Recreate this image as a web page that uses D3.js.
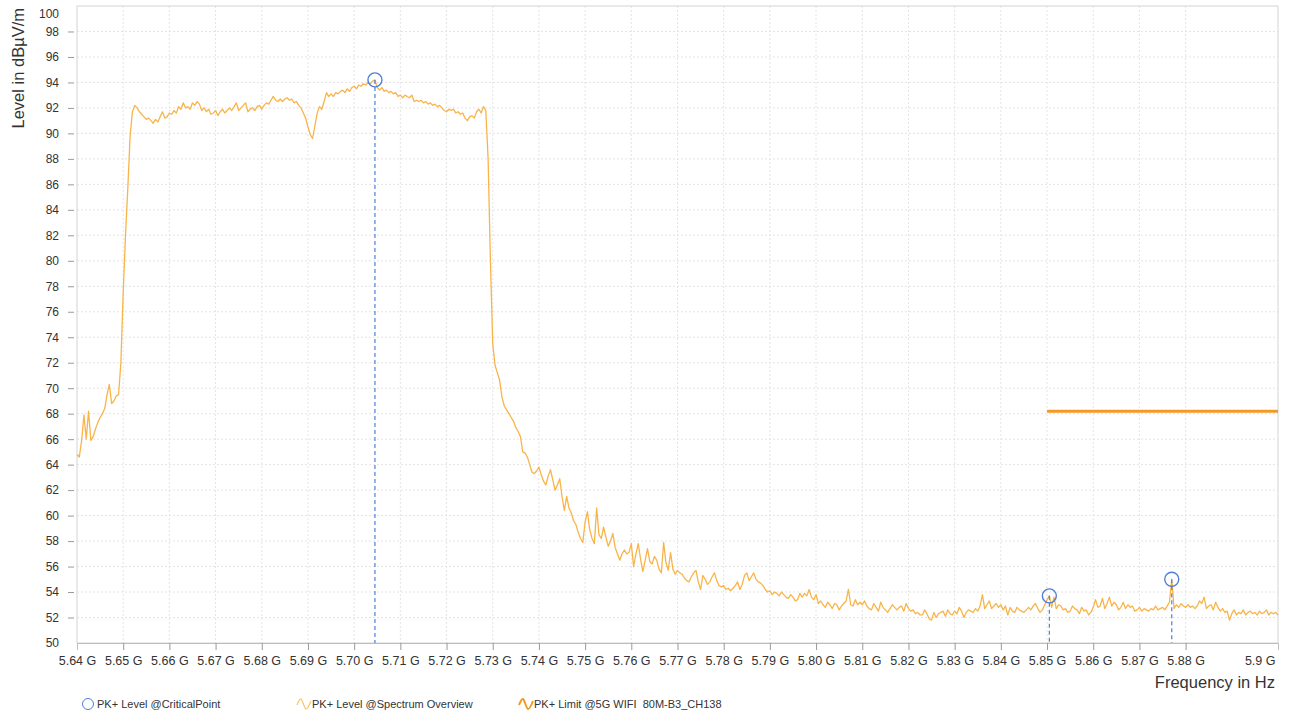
<!DOCTYPE html>
<html>
<head>
<meta charset="utf-8">
<script src="https://cdn.jsdelivr.net/npm/d3@7"></script>
<style>
    body { margin: 0; background: #fff; }
    svg text { font-family: "Liberation Sans", Arial, sans-serif; fill: #333; white-space: pre; }
</style>
</head>
<body>
<svg id="chart" width="1290" height="715"></svg>
<script>
// sweep: start frequency (GHz) and step between samples
const freqStart = 5.64;
const freqStep = 0.0005;

// PK+ level of the spectrum overview, dBµV/m, one value per sweep step
const levels = [
    64.8, 64.6, 65.9, 67.9, 66.0, 68.2, 65.9, 66.2, 66.8, 67.3, 67.7, 68.0, 68.4, 69.5, 70.3, 68.8, 69.0, 69.4, 69.5, 72.0,
    77.5, 82.0, 85.7, 89.8, 91.7, 92.2, 92.0, 91.7, 91.5, 91.3, 91.1,
    91.2, 91.0, 90.8, 91.1, 90.9, 91.3, 91.7, 91.2, 91.3, 91.6, 91.5, 91.8, 91.6, 92.1, 91.9, 92.4, 92.0, 92.1, 91.9, 92.4,
    92.2, 92.5, 92.3, 91.8, 92.0, 91.7, 91.9, 91.5, 91.6, 91.8,
    91.4, 91.7, 91.9, 91.6, 91.8, 92.0, 91.8, 92.1, 92.4, 91.8, 92.0, 92.2, 92.4, 91.7, 91.9, 92.0, 91.8, 92.1, 92.2, 91.9,
    92.2, 92.4, 92.3, 92.6, 92.9, 92.6, 92.5, 92.7, 92.5, 92.7,
    92.8, 92.6, 92.7, 92.4, 92.5, 92.2, 92.0, 91.6, 91.2, 90.5, 89.9, 89.6, 90.6, 91.6, 92.1, 91.9, 92.5, 93.2, 92.9, 93.1,
    92.9, 93.2, 93.1, 93.3, 93.4, 93.2, 93.5, 93.3, 93.6, 93.7,
    93.5, 93.8, 93.7, 93.9, 93.8, 94.0, 93.9, 94.1, 94.2, 93.6, 93.4, 93.6, 93.3, 93.4, 93.2, 93.3, 93.1, 93.2, 92.9, 93.0,
    92.8, 93.0, 92.9, 92.8, 93.0, 92.5, 92.6, 92.5, 92.6, 92.4,
    92.5, 92.3, 92.4, 92.2, 92.3, 92.1, 92.2, 92.0, 91.8, 91.7, 91.9, 91.8, 91.9, 91.6, 91.7, 91.5, 91.6, 91.2, 91.0, 91.3,
    91.4, 91.2, 91.7, 91.9, 91.6, 92.1, 91.8, 88.0, 80.0, 73.5,
    71.8, 71.2, 70.6, 69.3, 68.6, 68.3, 68.0, 67.7, 67.4, 66.9, 66.6, 66.2, 65.0, 64.9, 64.6, 64.0, 63.4, 63.3, 63.5, 63.8,
    63.2, 62.7, 62.4, 63.1, 63.6, 62.8, 62.0, 62.4, 62.9, 61.5,
    60.4, 61.5, 60.6, 60.2, 59.6, 59.3, 58.7, 58.2, 57.9, 59.5, 60.3, 58.9, 58.2, 57.8, 60.6, 58.5, 58.2, 59.1, 58.3, 57.6,
    58.0, 58.6, 57.5, 57.0, 56.5, 57.0, 57.3, 57.0, 57.1, 57.8,
    56.0, 57.0, 57.8, 56.6, 55.6, 56.5, 57.4, 56.4, 56.2, 56.8, 56.5, 55.8, 55.5, 57.9, 56.3, 55.7, 57.1, 55.8, 55.4, 55.7,
    55.5, 55.4, 55.1, 54.9, 54.8, 55.2, 55.5, 55.7, 54.8, 54.2,
    55.3, 55.0, 54.6, 54.8, 55.2, 55.5, 54.9, 54.5, 54.4, 54.5, 54.2, 54.3, 54.1, 54.3, 54.5, 54.8, 54.2, 54.6, 55.3, 55.5,
    54.9, 55.2, 55.5, 55.0, 54.8, 54.7, 54.5, 54.2, 54.0, 54.1,
    53.8, 54.0, 53.9, 53.7, 54.0, 53.8, 53.6, 53.5, 53.8, 53.6, 53.3, 53.4, 53.9, 53.6, 53.9, 53.7, 54.2, 53.6, 53.4, 53.8,
    53.1, 53.3, 53.0, 52.8, 53.2, 53.0, 52.7, 53.1, 53.0, 52.6,
    52.9, 53.1, 53.3, 54.2, 53.0, 52.9, 53.4, 53.0, 53.2, 53.0, 53.3, 52.9, 52.7, 52.6, 53.1, 52.8, 52.5, 53.2, 52.8, 52.6,
    52.4, 52.7, 53.0, 52.8, 52.6, 52.8, 52.9, 52.5, 53.1, 52.7,
    52.5, 52.6, 52.3, 52.4, 52.2, 52.2, 52.6, 52.3, 51.9, 51.8, 52.4, 52.0, 52.3, 52.4, 52.5, 52.1, 52.6, 52.3, 52.2, 52.5,
    52.3, 52.8, 52.5, 52.0, 52.4, 52.6, 52.5, 52.4, 52.7, 52.5,
    52.9, 53.8, 52.7, 53.0, 53.3, 52.7, 52.9, 53.1, 52.8, 53.0, 52.6, 52.9, 52.2, 52.8, 52.5, 52.4, 52.8, 52.6, 52.5, 52.4,
    52.6, 52.8, 52.6, 52.9, 53.1, 52.7, 52.4, 52.6, 53.0, 53.4,
    53.7, 52.8, 53.6, 52.7, 53.0, 52.9, 52.6, 52.7, 52.4, 52.5, 52.9, 52.7, 52.6, 52.3, 52.8, 52.5, 52.6, 52.2, 52.4, 52.8,
    53.4, 52.8, 52.9, 53.5, 52.7, 53.1, 53.6, 52.9, 53.2, 53.0,
    52.6, 52.8, 53.2, 52.7, 53.0, 52.8, 52.9, 52.5, 52.6, 52.8, 52.5, 52.7, 52.6, 52.5, 52.7, 52.6, 52.9, 52.6, 52.7, 52.8,
    52.6, 52.9, 53.2, 55.0, 52.7, 53.0, 52.8, 53.1, 52.9, 52.8,
    53.0, 52.8, 52.9, 52.7, 52.9, 53.3, 53.1, 53.6, 52.7, 52.9, 53.0, 52.6, 53.2, 52.8, 52.5, 52.7, 52.4, 52.5, 51.8, 52.3,
    52.6, 52.2, 52.4, 52.3, 52.6, 52.2, 52.4, 52.5, 52.3, 52.4,
    52.2, 52.5, 52.3, 52.4, 52.6, 52.2, 52.4, 52.3, 52.4, 52.2
];

// critical points (GHz, dBµV/m)
const criticalFreqs = [5.7045, 5.8505, 5.877];
const criticalLevels = [94.2, 53.7, 55.0];

// limit line of the 5G WIFI channel
const limitFreqs = [5.85, 5.90];
const limitLevels = [68.2, 68.2];

// axes
const yTicks = d3.range(50, 101, 2);
const xTicks = [5.64, 5.65, 5.66, 5.67, 5.68, 5.69, 5.70, 5.71, 5.72, 5.73, 5.74, 5.75, 5.76,
                5.77, 5.78, 5.79, 5.80, 5.81, 5.82, 5.83, 5.84, 5.85, 5.86, 5.87, 5.88, 5.90];
const xTickLabels = ["5.64 G", "5.65 G", "5.66 G", "5.67 G", "5.68 G", "5.69 G", "5.70 G", "5.71 G",
                     "5.72 G", "5.73 G", "5.74 G", "5.75 G", "5.76 G", "5.77 G", "5.78 G", "5.79 G",
                     "5.80 G", "5.81 G", "5.82 G", "5.83 G", "5.84 G", "5.85 G", "5.86 G", "5.87 G",
                     "5.88 G", "5.9 G"];

const legendLabels = ["PK+ Level @CriticalPoint", "PK+ Level @Spectrum Overview", "PK+ Limit @5G WIFI  80M-B3_CH138"];

const colors = {
    spectrum: "#f9b449",
    limit: "#f39a26",
    critical: "#4f7fd8",
    grid: "#e4e4e4",
    frame: "#d4d4d4"
};

/** Draws the spectrum plot */
class SpectrumChart {
    constructor(svg) {
        this.svg = svg;
        this.left = 77;
        this.right = 1278;
        this.top = 6;
        this.bottom = 643;

        this.x = d3.scaleLinear().domain([5.64, 5.90]).range([this.left, this.right]);
        this.y = d3.scaleLinear().domain([50, 100]).range([this.bottom, this.top]);
    }

    drawGrid() {
        let g = this.svg.append("g").attr("class", "grid");

        g.selectAll("line.h")
            .data(yTicks.filter(d => d > 50 && d < 100))
            .enter().append("line")
            .attr("x1", this.left).attr("x2", this.right)
            .attr("y1", d => this.y(d)).attr("y2", d => this.y(d))
            .attr("stroke", colors.grid)
            .attr("stroke-dasharray", "2,2");

        g.selectAll("line.v")
            .data(xTicks.filter(d => d > 5.64 && d < 5.9))
            .enter().append("line")
            .attr("x1", d => this.x(d)).attr("x2", d => this.x(d))
            .attr("y1", this.top).attr("y2", this.bottom)
            .attr("stroke", colors.grid)
            .attr("stroke-dasharray", "2,2");

        // frame
        g.append("rect")
            .attr("x", this.left).attr("y", this.top)
            .attr("width", this.right - this.left)
            .attr("height", this.bottom - this.top)
            .attr("fill", "none")
            .attr("stroke", colors.frame);
    }

    drawAxes() {
        let yAxis = d3.axisLeft(this.y)
            .tickValues(yTicks)
            .tickSize(6)
            .tickPadding(9)
            .tickFormat(d3.format("d"));

        let gy = this.svg.append("g")
            .attr("transform", `translate(${this.left - 3},0)`)
            .call(yAxis);
        gy.select(".domain").remove();
        gy.selectAll(".tick line").attr("stroke", "#999");
        gy.selectAll(".tick text").attr("font-size", 12).attr("fill", "#333");
        gy.selectAll(".tick").filter(d => d === 50 || d === 100).select("line").remove();
        // top label is pushed down so it stays inside the picture
        gy.selectAll(".tick").filter(d => d === 100).select("text").attr("dy", "0.95em");

        let xAxis = d3.axisBottom(this.x)
            .tickValues(xTicks)
            .tickSize(7)
            .tickPadding(6)
            .tickFormat((d, i) => xTickLabels[i]);

        let gx = this.svg.append("g")
            .attr("transform", `translate(0,${this.bottom})`)
            .call(xAxis);
        gx.select(".domain").attr("stroke", "#bdbdbd");
        gx.selectAll(".tick line").attr("stroke", "#999");
        gx.selectAll(".tick text").attr("font-size", 12.5).attr("fill", "#333");
        gx.selectAll(".tick").filter(d => d === 5.64 || d === 5.9).select("line").remove();
        gx.selectAll(".tick").filter(d => d === 5.9).select("text")
            .attr("text-anchor", "end").attr("x", -3);

        this.svg.append("text")
            .attr("transform", "translate(24,8) rotate(-90)")
            .attr("text-anchor", "end")
            .attr("font-size", 16.5)
            .text("Level in dBµV/m");

        this.svg.append("text")
            .attr("x", 1275).attr("y", 688)
            .attr("text-anchor", "end")
            .attr("font-size", 16.5)
            .text("Frequency in Hz");
    }

    drawSeries() {
        let spectrum = levels.map((v, i) => ({ f: freqStart + i * freqStep, v: v }));

        let line = d3.line()
            .x(d => this.x(d.f))
            .y(d => this.y(d.v));

        this.svg.append("path")
            .datum(spectrum)
            .attr("fill", "none")
            .attr("stroke", colors.spectrum)
            .attr("stroke-width", 1.3)
            .attr("stroke-linejoin", "round")
            .attr("d", line);

        let limit = limitFreqs.map((f, i) => ({ f: f, v: limitLevels[i] }));
        this.svg.append("path")
            .datum(limit)
            .attr("fill", "none")
            .attr("stroke", colors.limit)
            .attr("stroke-width", 3)
            .attr("d", line);

        let crit = criticalFreqs.map((f, i) => ({ f: f, v: criticalLevels[i] }));
        let g = this.svg.append("g").attr("class", "critical");

        g.selectAll("line")
            .data(crit)
            .enter().append("line")
            .attr("x1", d => this.x(d.f)).attr("x2", d => this.x(d.f))
            .attr("y1", d => this.y(d.v)).attr("y2", this.bottom)
            .attr("stroke", colors.critical)
            .attr("stroke-width", 1.2)
            .attr("stroke-dasharray", "4,3");

        g.selectAll("circle")
            .data(crit)
            .enter().append("circle")
            .attr("cx", d => this.x(d.f))
            .attr("cy", d => this.y(d.v))
            .attr("r", 7)
            .attr("fill", "none")
            .attr("stroke", colors.critical)
            .attr("stroke-width", 1.4);
    }

    drawLegend() {
        let cy = 704;
        let items = [
            { label: legendLabels[0], x: 82, kind: "circle" },
            { label: legendLabels[1], x: 297, kind: "wave", color: "#f9c261", width: 1.2 },
            { label: legendLabels[2], x: 519, kind: "wave", color: colors.limit, width: 2 }
        ];
        let wave = d3.line().curve(d3.curveCardinal);

        items.forEach(item => {
            if (item.kind === "circle") {
                this.svg.append("circle")
                    .attr("cx", item.x + 6).attr("cy", cy).attr("r", 5.5)
                    .attr("fill", "none")
                    .attr("stroke", colors.critical)
                    .attr("stroke-width", 1);
            } else {
                let pts = [[item.x, cy + 1], [item.x + 4, cy - 5], [item.x + 9, cy + 5], [item.x + 14, cy - 3]];
                this.svg.append("path")
                    .attr("d", wave(pts))
                    .attr("fill", "none")
                    .attr("stroke", item.color)
                    .attr("stroke-width", item.width);
            }
            this.svg.append("text")
                .attr("x", item.x + 15).attr("y", cy + 4)
                .attr("font-size", 11)
                .text(item.label);
        });
    }
}

let chart = new SpectrumChart(d3.select("#chart"));
chart.drawGrid();
chart.drawAxes();
chart.drawSeries();
chart.drawLegend();
</script>
</body>
</html>
